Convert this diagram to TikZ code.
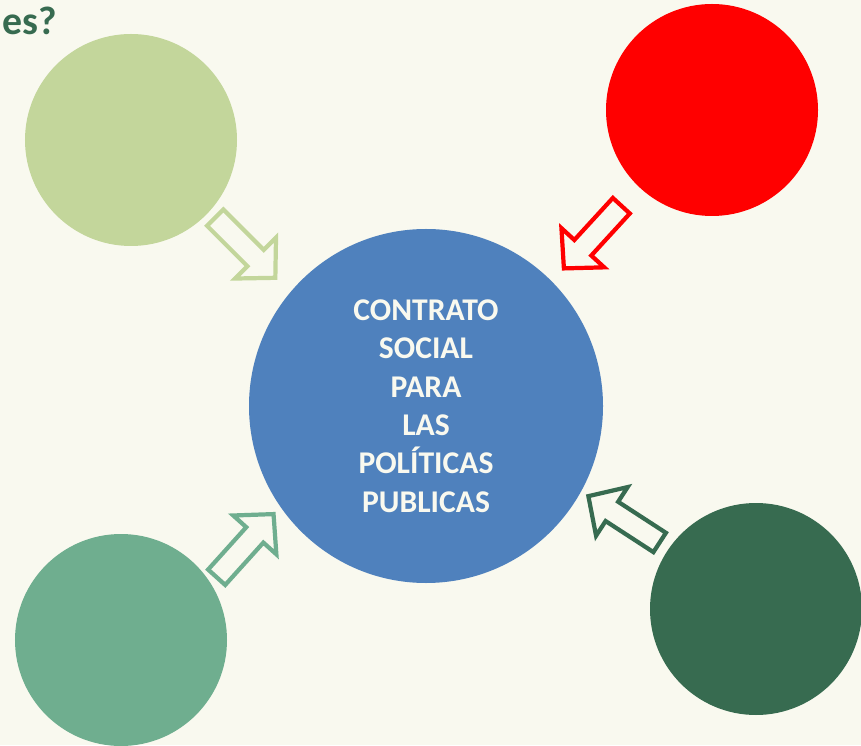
\documentclass[tikz,border=0pt]{standalone}
\usepackage{fontspec}
\setmainfont{Carlito}
\usepackage{tikz}
\usetikzlibrary{positioning}

\definecolor{fondo}{HTML}{F9F9EF}
\definecolor{verdeclaro}{HTML}{C3D69B}
\definecolor{verdemedio}{HTML}{6FAE8F}
\definecolor{verdeoscuro}{HTML}{376B50}
\definecolor{azul}{HTML}{4F81BD}

\begin{document}
\begin{tikzpicture}[x=0.3mm, y=0.3mm,
    bola/.style={circle, minimum size=63.6mm, inner sep=0pt},
    flecha/.pic={
      \draw[line width=3.6pt, line join=miter]
        (1,-11.5) -- (58,-11.5) -- (58,-29) -- (86,0) -- (58,29) -- (58,11.5) -- (1,11.5) -- cycle;
    }]
      \fill[fondo] (0, 0) rectangle (861, 745);
      \path[use as bounding box] (0, 0) rectangle (861, 745);

      % titulo cortado
      \node[anchor=base west, inner sep=0pt, text=verdeoscuro,
            font=\fontsize{34}{40}\selectfont\bfseries] (titulo) at (2, 710) {es?};

      % circulos
      \node[bola, fill=verdeclaro] (verde1) at (131, 605) {};
      \node[bola, fill=red] (rojo) at (712, 635) {};
      \node[bola, fill=verdemedio] (verde2) at (121, 105) {};
      \node[bola, fill=verdeoscuro] (verde3) at (756, 136) {};
      \node[circle, minimum size=106.2mm, inner sep=0pt, fill=azul, text=fondo,
            align=center, font=\fontsize{27}{32.8}\selectfont\bfseries]
            (contrato) at (426, 339) {CONTRATO\\SOCIAL\\PARA\\LAS\\POLÍTICAS\\PUBLICAS};

      % flechas
      \pic[verdeclaro, rotate=-45] at (214.5, 528) {flecha};
      \pic[red, rotate=-132.5] at (622, 540) {flecha};
      \pic[verdemedio, rotate=48] at (216, 167) {flecha};
      \pic[verdeoscuro, rotate=147] at (660.5, 202) {flecha};
    \end{tikzpicture}
\end{document}
